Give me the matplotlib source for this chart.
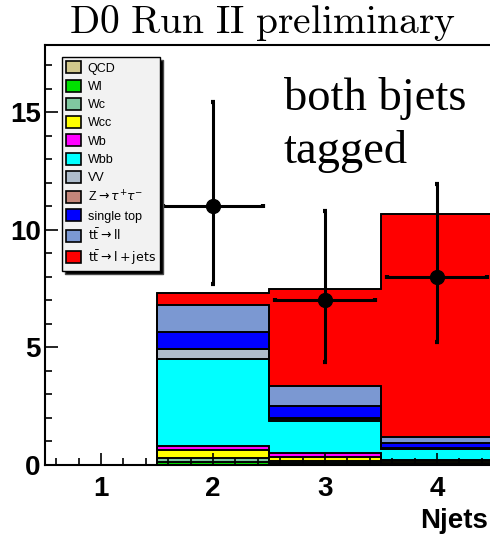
import numpy as np
import matplotlib
matplotlib.use("Agg")
import matplotlib.pyplot as plt
from matplotlib.patches import Patch
from matplotlib.font_manager import FontProperties
from matplotlib.ticker import MultipleLocator

# jet multiplicity bins (1..4 jets)
njets = [1, 2, 3, 4]
bin_edges = [0.5, 1.5, 2.5, 3.5, 4.5]

# expected events per process, stacked bottom to top
qcd = [0.0, 0.00, 0.00, 0.00]
wl = [0.0, 0.14, 0.08, 0.05]
wc = [0.0, 0.14, 0.10, 0.05]
wcc = [0.0, 0.35, 0.14, 0.06]
wb = [0.0, 0.17, 0.18, 0.06]
wbb = [0.0, 3.70, 1.39, 0.45]
vv = [0.0, 0.42, 0.08, 0.03]
ztautau = [0.0, 0.02, 0.03, 0.02]
single_top = [0.0, 0.73, 0.52, 0.20]
tt_ll = [0.0, 1.14, 0.84, 0.28]
tt_ljets = [0.0, 0.50, 4.11, 9.48]

# observed data with asymmetric errors
data_x = [2, 3, 4]
data_y = [11, 7, 8]
data_err_low = [3.30, 2.62, 2.77]
data_err_high = [4.45, 3.80, 3.95]
data_xerr = [0.45, 0.45, 0.45]

labels = [
    "QCD", "Wl", "Wc", "Wcc", "Wb", "Wbb", "VV",
    r"Z$\rightarrow\tau^{+}\tau^{-}$", "single top",
    r"$\mathrm{t\bar{t}}\rightarrow\mathrm{ll}$",
    r"$\mathrm{t\bar{t}}\rightarrow\mathrm{l+jets}$",
]
colors = [
    "#d2c88c", "#00e000", "#80c8a0", "#ffff00", "#ff00ff", "#00ffff",
    "#aebccb", "#c4867a", "#0000ff", "#7b98d2", "#ff0000",
]
components = [qcd, wl, wc, wcc, wb, wbb, vv, ztautau, single_top, tt_ll, tt_ljets]

fig = plt.figure(figsize=(4.9, 5.4), dpi=100)
ax = fig.add_axes([45 / 490, 75 / 540, 448 / 490, 420 / 540])

# cumulative stack, drawn from the top process downwards like THStack
cumulative = np.cumsum(np.array(components), axis=0)
for level, color in reversed(list(zip(cumulative, colors))):
    ax.stairs(level, bin_edges, baseline=0, fill=True, facecolor=color,
              edgecolor="black", linewidth=1.2, zorder=1)
    ax.stairs(level, bin_edges, baseline=0, fill=False, color="black",
              linewidth=1.2, zorder=1.1)

ax.errorbar(data_x, data_y, xerr=data_xerr, yerr=[data_err_low, data_err_high],
            fmt="o", color="black", markersize=10, elinewidth=2.2,
            capsize=1.5, capthick=3, zorder=3)

ax.set_xlim(0.5, 4.5)
ax.set_ylim(0, 17.87)
ax.xaxis.set_major_locator(MultipleLocator(1))
ax.xaxis.set_minor_locator(MultipleLocator(0.2))
ax.yaxis.set_major_locator(MultipleLocator(5))
ax.yaxis.set_minor_locator(MultipleLocator(1))
ax.tick_params(which="both", direction="in", width=1.2, top=False, right=False)
ax.tick_params(which="major", length=9)
ax.tick_params(which="minor", length=5)
ax.tick_params(axis="x", which="major", pad=8)
ax.tick_params(axis="y", which="major", pad=3)
for lab in ax.get_xticklabels() + ax.get_yticklabels():
    lab.set_fontfamily("Liberation Sans")
    lab.set_fontweight("bold")
    lab.set_fontsize(20)
for side in ["left", "bottom", "top"]:
    ax.spines[side].set_linewidth(1.5)
ax.spines["right"].set_visible(False)

fig.text(488 / 490, 1 - 521 / 540, "Njets", ha="right", va="center",
         fontfamily="Liberation Sans", fontweight="bold", fontsize=20)

fig.text(262 / 490, 1 - 33 / 540, r"$\mathrm{D0\ Run\ II\ preliminary}$",
         ha="center", va="baseline", fontsize=28.5, math_fontfamily="cm")

fig.text(284 / 490, 1 - 110 / 540, "both bjets", ha="left", va="baseline",
         fontfamily="Liberation Serif", fontsize=33.5)
fig.text(284 / 490, 1 - 163 / 540, "tagged", ha="left", va="baseline",
         fontfamily="Liberation Serif", fontsize=33.5)

handles = [Patch(facecolor=c, edgecolor="black", linewidth=1.2) for c in colors]
legend_font = FontProperties(family="Liberation Sans", size=9,
                             math_fontfamily="dejavusans")
leg = ax.legend(handles, labels, loc="upper left", prop=legend_font,
                bbox_to_anchor=(62 / 490, 1 - 57 / 540),
                bbox_transform=fig.transFigure, borderaxespad=0,
                borderpad=0.35, handlelength=1.2, handleheight=1.1,
                handletextpad=0.5, labelspacing=0.4, fancybox=False,
                framealpha=1, edgecolor="black",
                shadow={"facecolor": "black", "alpha": 1})
leg.get_frame().set_facecolor("#f2f2f2")
leg.get_frame().set_linewidth(1.0)

fig.savefig("out.png", dpi=100)
